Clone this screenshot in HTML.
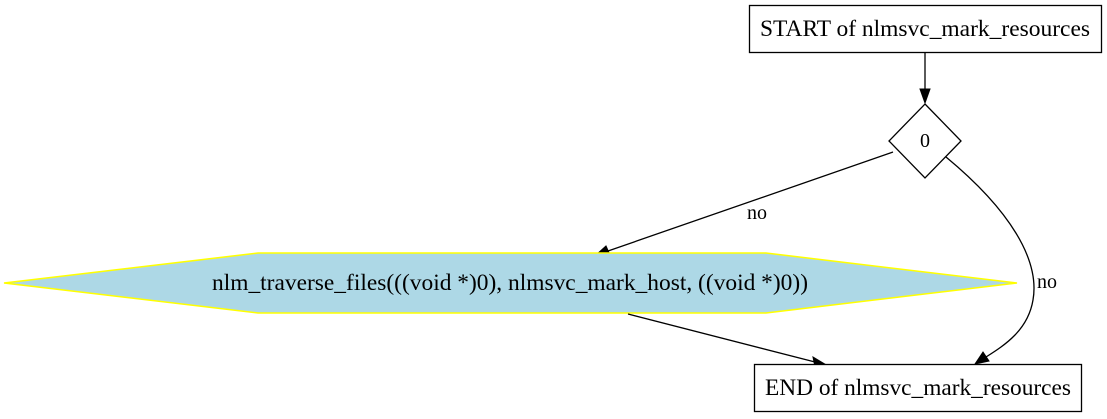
<!DOCTYPE html>
<html><head><style>body{margin:0;background:#fff;}svg{display:block}</style></head><body>
<svg width="1107" height="419" viewBox="0 0 1107 419" xmlns="http://www.w3.org/2000/svg" font-family="Liberation Serif, serif" font-size="23">
<rect x="749.5" y="5.5" width="352" height="47" fill="#fff" stroke="#000" stroke-width="1.3"/>
<text x="925" y="36" text-anchor="middle" textLength="330" lengthAdjust="spacingAndGlyphs">START of nlmsvc_mark_resources</text>
<line x1="925" y1="53" x2="925" y2="90" stroke="#000" stroke-width="1.3"/>
<polygon points="920,89 930,89 925,103" fill="#000" stroke="#000"/>
<polygon points="925,104 961,141 925,178 889,141" fill="#fff" stroke="#000" stroke-width="1.3"/>
<text x="925" y="147" text-anchor="middle" font-size="20">0</text>
<line x1="893" y1="152" x2="608" y2="251" stroke="#000" stroke-width="1.3"/>
<polygon points="606,246 610,255 596,255" fill="#000" stroke="#000"/>
<text x="757" y="219" text-anchor="middle" font-size="20">no</text>
<path d="M946,157 C1010,210 1040,260 1033,300 C1028,330 1005,345 986,357" fill="none" stroke="#000" stroke-width="1.3"/>
<polygon points="983,352 989,361 975,364" fill="#000" stroke="#000"/>
<text x="1047" y="288" text-anchor="middle" font-size="20">no</text>
<polygon points="4,283 258,253 766,253 1017,283 766,313 258,313" fill="#add8e6" stroke="#ffff00" stroke-width="1.5"/>
<text x="510" y="290" text-anchor="middle" textLength="596" lengthAdjust="spacingAndGlyphs">nlm_traverse_files(((void *)0), nlmsvc_mark_host, ((void *)0))</text>
<line x1="628" y1="314" x2="815" y2="362" stroke="#000" stroke-width="1.3"/>
<polygon points="813,357 815,367 828,366" fill="#000" stroke="#000"/>
<rect x="754.5" y="364.5" width="327" height="47" fill="#fff" stroke="#000" stroke-width="1.3"/>
<text x="918" y="395" text-anchor="middle" textLength="306" lengthAdjust="spacingAndGlyphs">END of nlmsvc_mark_resources</text>
</svg>
</body></html>
